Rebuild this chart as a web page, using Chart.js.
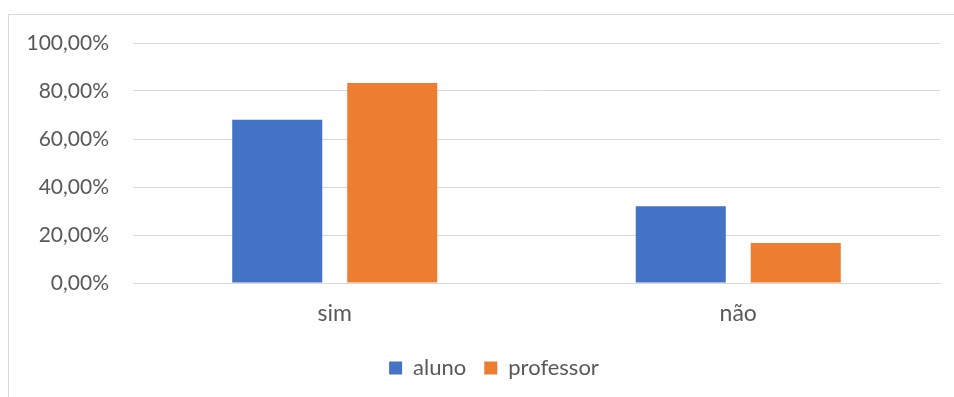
<!DOCTYPE html>
<html>
<head>
<meta charset="utf-8">
<script src="https://cdn.jsdelivr.net/npm/chart.js@4.4.0/dist/chart.umd.min.js"></script>
<style>
  html, body { margin: 0; padding: 0; background: #fff; }
  #wrap { position: relative; width: 954px; height: 397px; }
  #frame { position: absolute; left: 8px; top: 14px; width: 960px; height: 400px; border: 1px solid #d9d9d9; box-sizing: border-box; }
  #resultsChart { position: absolute; left: 0; top: 0; }
</style>
</head>
<body>
<div id="wrap">
  <div id="frame"></div>
  <canvas id="resultsChart" width="954" height="397"></canvas>
</div>
<script>
const categories = ['sim', 'não'];
const alunoValues = [68, 32];
const professorValues = [83.33, 16.67];
const yTicks = [0, 20, 40, 60, 80, 100];

const textColor = '#595959';
const gridColor = '#d9d9d9';
const fontFamily = 'Lato, "Open Sans", sans-serif';

// nudge the legend to the right so it sits centred under the outer frame
const legendShift = {
    id: 'legendShift',
    afterLayout(chart) {
        chart.legend.left += 20;
        chart.legend.right += 20;
    }
};

const ctx = document.getElementById('resultsChart');
const myChart = new Chart(ctx, {
    type: 'bar',
    data: {
        labels: categories,
        datasets: [{
            label: 'aluno',
            data: alunoValues,
            backgroundColor: '#4472c4',
            categoryPercentage: 0.57,
            barPercentage: 0.783
        }, {
            label: 'professor',
            data: professorValues,
            backgroundColor: '#ed7d31',
            categoryPercentage: 0.57,
            barPercentage: 0.783
        }]
    },
    plugins: [legendShift],
    options: {
        responsive: false,
        animation: false,
        layout: {
            padding: { left: 8, right: 14, top: 43, bottom: 8 }
        },
        scales: {
            x: {
                grid: { display: false, drawTicks: false },
                border: { color: gridColor, width: 1 },
                ticks: {
                    color: textColor,
                    padding: 17,
                    font: { family: fontFamily, size: 23 }
                },
                afterFit: function (scale) { scale.height = 56; }
            },
            y: {
                min: 0,
                max: 100,
                afterBuildTicks: function (scale) {
                    scale.ticks = yTicks.map(v => ({ value: v }));
                },
                grid: { color: gridColor, lineWidth: 1, drawTicks: false },
                border: { display: false },
                ticks: {
                    color: textColor,
                    padding: 24,
                    font: { family: fontFamily, size: 21 },
                    callback: function (value) {
                        return value.toFixed(2).replace('.', ',') + '%';
                    }
                },
                afterFit: function (scale) { scale.width = 125; }
            }
        },
        plugins: {
            tooltip: { enabled: false },
            legend: {
                position: 'bottom',
                labels: {
                    color: textColor,
                    boxWidth: 13,
                    boxHeight: 13,
                    padding: 18,
                    font: { family: fontFamily, size: 22 }
                }
            }
        }
    }
});
</script>
</body>
</html>
